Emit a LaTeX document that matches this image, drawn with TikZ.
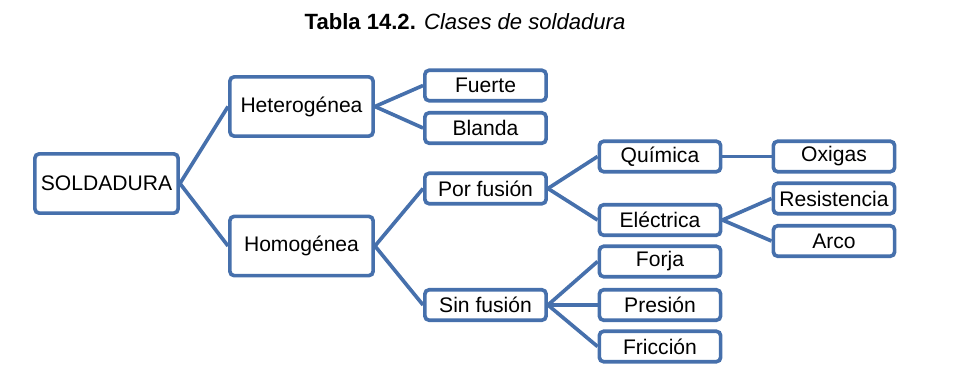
\documentclass[tikz,border=0pt]{standalone}
\usepackage{fontspec}
\setmainfont{Liberation Sans}
\usetikzlibrary{positioning}
\definecolor{linkcolor}{RGB}{70, 112, 172}
\tikzset{
	baseblock/.style={
		rectangle, rounded corners=3pt,
		minimum width=3.03cm, minimum height=0.76cm,
		align=center, font=\fontsize{15}{17}\selectfont,
		draw=linkcolor, line width=2.6pt, fill=white, inner sep=1pt
	},
	bigblock/.style={
		baseblock, minimum width=3.58cm, minimum height=1.48cm
	},
	link/.style={
		line width=2.6pt, color=linkcolor
	}
}
\begin{document}
\begin{tikzpicture}[x=0.025cm, y=-0.025cm]
		\useasboundingbox (0,0) rectangle (975,376);
		%% ═══════════════════════════════
		%%  TITLE
		%% ═══════════════════════════════
		\node[font=\fontsize{15.7}{18}\selectfont] (title) at (465,22)
		{\textbf{Tabla 14.2.} \textit{Clases de soldadura}};
		
		%% ═══════════════════════════════
		%%  LEVEL 1-2
		%% ═══════════════════════════════
		\node[bigblock] (soldadura) at (106.5,183.5) {SOLDADURA};
		\node[bigblock] (hetero) at (301.5,106.5) {Heterogénea};
		\node[bigblock] (homo) at (301.5,246) {Homogénea};
		
		%% ═══════════════════════════════
		%%  LEVEL 3
		%% ═══════════════════════════════
		\node[baseblock] (fuerte) at (485.5,85.5) {Fuerte};
		\node[baseblock] (blanda) at (485.5,128) {Blanda};
		\node[baseblock] (porfusion) at (485.5,188.5) {Por fusión};
		\node[baseblock] (sinfusion) at (485.5,305) {Sin fusión};
		
		%% ═══════════════════════════════
		%%  LEVEL 4
		%% ═══════════════════════════════
		\node[baseblock] (quimica) at (660,156.5) {Química};
		\node[baseblock] (electrica) at (660,220) {Eléctrica};
		\node[baseblock] (forja) at (660,261.5) {Forja};
		\node[baseblock] (presion) at (660,305) {Presión};
		\node[baseblock] (friccion) at (660,346.5) {Fricción};
		
		%% ═══════════════════════════════
		%%  LEVEL 5
		%% ═══════════════════════════════
		\node[baseblock] (oxigas) at (834,156.5) {Oxigas};
		\node[baseblock] (resistencia) at (834,198.5) {Resistencia};
		\node[baseblock] (arco) at (834,241) {Arco};
		
		%% ═══════════════════════════════
		%%  LINKS
		%% ═══════════════════════════════
		% SOLDADURA → Heterogénea / Homogénea
		\draw[link] (soldadura.east) -- (hetero.west);
		\draw[link] (soldadura.east) -- (homo.west);
		
		% Heterogénea → Fuerte / Blanda
		\draw[link] (hetero.east) -- (fuerte.west);
		\draw[link] (hetero.east) -- (blanda.west);
		
		% Homogénea → Por fusión / Sin fusión
		\draw[link] (homo.east) -- (porfusion.west);
		\draw[link] (homo.east) -- (sinfusion.west);
		
		% Por fusión → Química / Eléctrica
		\draw[link] (porfusion.east) -- (quimica.west);
		\draw[link] (porfusion.east) -- (electrica.west);
		
		% Sin fusión → Forja / Presión / Fricción
		\draw[link] (sinfusion.east) -- (forja.west);
		\draw[link] (sinfusion.east) -- (presion.west);
		\draw[link] (sinfusion.east) -- (friccion.west);
		
		% Química → Oxigas
		\draw[link] (quimica.east) -- (oxigas.west);
		
		% Eléctrica → Resistencia / Arco
		\draw[link] (electrica.east) -- (resistencia.west);
		\draw[link] (electrica.east) -- (arco.west);
\end{tikzpicture}
\end{document}
